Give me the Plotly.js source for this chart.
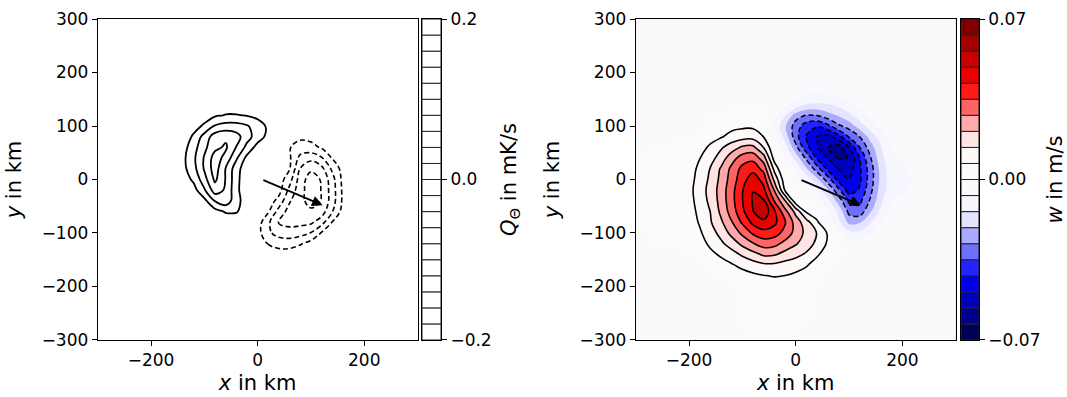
<!DOCTYPE html>
<html>
<head>
<meta charset="utf-8">
<script src="https://cdn.plot.ly/plotly-3.0.1.min.js"></script>
<style>html,body{margin:0;padding:0;background:#fff;}#chart{width:1067px;height:397px;}</style>
</head>
<body>
<div id="chart"></div>
<script>
// ---------- left panel: Q_theta (mK/s) ----------
const qX = [-180,-160,-140,-120,-100,-80,-60,-40,-20,0,20,40,60,80,100,120,140,160,180];
const qY = [-160,-140,-120,-100,-80,-60,-40,-20,0,20,40,60,80,100,120,140];
const qField = [
 [0,0,0,0,0,0,0,0,0,0,0,0,0,0,0,0,0,0,0],
 [0,0,0,0,0,0,0,0,0,0,-0.006,-0.01,-0.01,-0.006,0,0,0,0,0],
 [0,0,0,0,0,0,0,0,0,-0.006,-0.021,-0.028,-0.028,-0.022,-0.012,-0.004,0,0,0],
 [0,0,0,0,0,0,0,0,0,-0.012,-0.036,-0.048,-0.052,-0.048,-0.039,-0.018,-0.004,0,0],
 [0,0,0,0,0,0.002,0.005,0.006,0.002,-0.01,-0.036,-0.062,-0.066,-0.066,-0.064,-0.048,-0.019,-0.006,0],
 [0,0,0,0,0.005,0.012,0.022,0.022,0.008,-0.004,-0.018,-0.048,-0.068,-0.074,-0.076,-0.07,-0.041,-0.012,0],
 [0,0,0.002,0.006,0.014,0.041,0.052,0.028,0.008,-0.002,-0.008,-0.028,-0.058,-0.074,-0.088,-0.079,-0.05,-0.016,0],
 [0,0.002,0.006,0.012,0.037,0.07,0.057,0.026,0.004,0,-0.004,-0.012,-0.046,-0.072,-0.092,-0.079,-0.05,-0.016,0],
 [0,0.003,0.009,0.024,0.052,0.084,0.059,0.027,0.004,0,-0.004,-0.01,-0.032,-0.07,-0.09,-0.078,-0.048,-0.014,0],
 [0,0.005,0.014,0.033,0.062,0.09,0.059,0.029,0.006,0,-0.004,-0.01,-0.019,-0.061,-0.076,-0.066,-0.036,-0.012,0],
 [0,0.005,0.015,0.036,0.062,0.089,0.074,0.043,0.014,0.004,-0.002,-0.008,-0.017,-0.046,-0.054,-0.042,-0.019,-0.008,0],
 [0,0.004,0.012,0.032,0.055,0.075,0.083,0.059,0.034,0.012,0.004,-0.008,-0.019,-0.028,-0.026,-0.018,-0.006,0,0],
 [0,0.002,0.009,0.023,0.048,0.07,0.076,0.068,0.048,0.03,0.014,0,-0.008,-0.016,-0.014,-0.008,-0.002,0,0],
 [0,0,0.005,0.013,0.023,0.042,0.048,0.048,0.042,0.03,0.016,0.004,-0.002,-0.004,-0.004,-0.002,0,0,0],
 [0,0,0.001,0.005,0.011,0.017,0.021,0.021,0.019,0.014,0.008,0.002,0,0,0,0,0,0,0],
 [0,0,0,0.001,0.004,0.008,0.01,0.01,0.008,0.004,0,0,0,0,0,0,0,0,0]
];

// ---------- right panel: w (m/s) ----------
const wX = [-300,-200,-180,-160,-140,-120,-100,-80,-60,-40,-20,0,20,40,60,80,100,120,140,160,180,300];
const wY = [-300,-200,-180,-160,-140,-120,-100,-80,-60,-40,-20,0,20,40,60,80,100,120,140,160,300];
const wField = [
 [-0.0005,-0.0005,-0.0005,-0.0005,-0.0005,-0.0005,-0.0005,-0.0005,-0.0005,-0.0005,-0.0005,-0.0005,-0.0005,-0.0005,-0.0005,-0.0005,-0.0005,-0.0005,-0.0005,-0.0005,-0.0005,-0.0005],
 [-0.0005,-0.0005,-0.0005,-0.0005,-0.0005,-0.0005,0.0014,0.0025,0.0032,0.0035,0.0032,0.0025,0.0014,-0.0005,-0.0005,-0.0005,-0.0005,-0.0005,-0.0005,-0.0005,-0.0005,-0.0005],
 [-0.0005,-0.0005,-0.0005,-0.0005,-0.0005,0.0028,0.0042,0.0056,0.0067,0.0074,0.0069,0.0056,0.0035,0.0014,-0.0005,-0.0005,-0.0005,-0.0005,-0.0005,-0.0005,-0.0005,-0.0005],
 [-0.0005,-0.0005,-0.0005,0.0021,0.0042,0.0063,0.0088,0.0109,0.0126,0.0126,0.0112,0.0098,0.0077,0.0035,0.0011,-0.0005,-0.0005,-0.0005,-0.0005,-0.0005,-0.0005,-0.0005],
 [-0.0005,-0.0005,0.0021,0.0053,0.0081,0.0112,0.0151,0.0186,0.0222,0.0218,0.0186,0.0161,0.013,0.0081,0.0028,0.0007,-0.0005,-0.0005,-0.0005,-0.0005,-0.0005,-0.0005],
 [-0.0005,0.0011,0.0042,0.0084,0.0126,0.0172,0.0228,0.0275,0.0312,0.0302,0.0258,0.0217,0.0175,0.0123,0.006,0.0014,-0.0042,-0.0042,-0.0021,-0.0005,-0.0005,-0.0005],
 [-0.0005,0.0021,0.006,0.0109,0.0163,0.0232,0.0296,0.0362,0.0395,0.0381,0.0326,0.0256,0.0189,0.0137,0.0063,-0.0049,-0.0112,-0.0119,-0.0084,-0.0035,-0.0005,-0.0005],
 [-0.0005,0.0032,0.0077,0.0133,0.0198,0.0275,0.0362,0.0438,0.0472,0.0438,0.0358,0.0249,0.0168,0.0084,-0.0021,-0.0119,-0.0231,-0.0217,-0.0147,-0.0071,-0.0021,-0.0005],
 [-0.0005,0.0039,0.0088,0.0141,0.0226,0.0312,0.0405,0.0488,0.0538,0.0432,0.0305,0.0188,0.006,0.0021,-0.0063,-0.0154,-0.0301,-0.0322,-0.0217,-0.0119,-0.0049,-0.0005],
 [-0.0005,0.0046,0.0098,0.0158,0.0237,0.0326,0.0418,0.0498,0.0496,0.0348,0.0216,0.0028,-0.0007,-0.0049,-0.0119,-0.0238,-0.0364,-0.0368,-0.027,-0.0154,-0.0071,-0.0005],
 [-0.0005,0.0049,0.0105,0.0165,0.024,0.0326,0.0416,0.0488,0.0438,0.0276,0.0063,-0.0004,-0.0042,-0.0098,-0.0203,-0.0329,-0.0455,-0.041,-0.0301,-0.0175,-0.0091,-0.0005],
 [-0.0005,0.0042,0.0098,0.0154,0.023,0.0312,0.0392,0.0462,0.0392,0.0192,0.0028,-0.0035,-0.0091,-0.0193,-0.0315,-0.0441,-0.0487,-0.0434,-0.0315,-0.0189,-0.0098,-0.0005],
 [-0.0005,0.0035,0.0088,0.0144,0.0219,0.0298,0.0372,0.0395,0.0326,0.0119,-0.0014,-0.0081,-0.02,-0.0319,-0.0434,-0.0491,-0.0525,-0.0431,-0.0315,-0.0182,-0.0091,-0.0005],
 [-0.0005,0.0028,0.0068,0.0112,0.0174,0.0252,0.0312,0.0329,0.0242,0.0041,-0.0056,-0.0165,-0.0294,-0.0427,-0.0491,-0.0564,-0.0559,-0.0419,-0.0287,-0.0161,-0.0077,-0.0005],
 [-0.0005,0.0014,0.0042,0.0084,0.013,0.0177,0.0221,0.0228,0.0137,0.0011,-0.0105,-0.0256,-0.0399,-0.048,-0.0559,-0.0595,-0.0487,-0.0349,-0.0245,-0.0144,-0.0063,-0.0005],
 [-0.0005,-0.0005,0.0021,0.0042,0.0063,0.0095,0.0112,0.0112,0.0068,-0.0049,-0.0168,-0.0322,-0.0427,-0.0494,-0.0511,-0.0448,-0.0343,-0.0279,-0.0182,-0.0105,-0.0042,-0.0005],
 [-0.0005,-0.0005,-0.0005,0.0021,0.0035,0.0049,0.0056,0.0056,0.0042,-0.0077,-0.02,-0.0315,-0.0385,-0.0413,-0.0371,-0.0294,-0.0252,-0.0175,-0.0105,-0.0056,-0.0021,-0.0005],
 [-0.0005,-0.0005,-0.0005,-0.0005,-0.0005,0.0014,0.0021,0.0021,0.0014,-0.0049,-0.0133,-0.0245,-0.0284,-0.0277,-0.0238,-0.0203,-0.0154,-0.0105,-0.0063,-0.0028,-0.0007,-0.0005],
 [-0.0005,-0.0005,-0.0005,-0.0005,-0.0005,-0.0005,-0.0005,-0.0005,-0.0005,-0.0005,-0.0056,-0.0091,-0.0144,-0.0151,-0.0144,-0.0119,-0.0091,-0.0056,-0.0028,-0.0014,-0.0005,-0.0005],
 [-0.0005,-0.0005,-0.0005,-0.0005,-0.0005,-0.0005,-0.0005,-0.0005,-0.0005,-0.0005,-0.0014,-0.0035,-0.0063,-0.0069,-0.0063,-0.0049,-0.0035,-0.0021,-0.0005,-0.0005,-0.0005,-0.0005],
 [-0.0005,-0.0005,-0.0005,-0.0005,-0.0005,-0.0005,-0.0005,-0.0005,-0.0005,-0.0005,-0.0005,-0.0005,-0.0005,-0.0005,-0.0005,-0.0005,-0.0005,-0.0005,-0.0005,-0.0005,-0.0005,-0.0005]
];

// colour-bar levels
const qLevels = [-0.2,-0.18,-0.16,-0.14,-0.12,-0.1,-0.08,-0.06,-0.04,-0.02,0,0.02,0.04,0.06,0.08,0.1,0.12,0.14,0.16,0.18,0.2];
const wLevels = [-0.07,-0.063,-0.056,-0.049,-0.042,-0.035,-0.028,-0.021,-0.014,-0.007,0,0.007,0.014,0.021,0.028,0.035,0.042,0.049,0.056,0.063,0.07];
// colour of each w band, from -0.07 (bottom) to 0.07 (top)
const wBinColors = [
 'rgb(0,0,85)','rgb(0,0,140)','rgb(0,0,190)','rgb(0,0,235)','rgb(35,35,255)',
 'rgb(110,110,255)','rgb(170,170,255)','rgb(228,228,255)','rgb(246,246,254)','rgb(250,250,253)',
 'rgb(251,251,253)','rgb(253,249,249)','rgb(255,228,228)','rgb(255,170,170)','rgb(255,100,100)',
 'rgb(255,25,25)','rgb(235,0,0)','rgb(200,0,0)','rgb(165,0,0)','rgb(128,0,0)'
];
// line levels drawn over the fields: [first, last, step]
const qPosLines = [0.02, 0.08, 0.02];
const qNegLines = [-0.08, -0.02, 0.02];
const wPosLines = [0.007, 0.049, 0.007];
const wNegLines = [-0.056, -0.028, 0.007];

const arrowTail = [8, 0];
const arrowTip = [122, -48];
const xTicks = [-200, 0, 200];
const yTicks = [-300, -200, -100, 0, 100, 200, 300];
const qTicks = [-0.2, 0, 0.2];
const qTickText = ['\u22120.2', '0.0', '0.2'];
const wTicks = [-0.07, 0, 0.07];
const wTickText = ['\u22120.07', '0.00', '0.07'];

const nB = wBinColors.length;
const wScale = [[0, wBinColors[0]]];
for (let k = 1; k <= nB; k++) wScale.push([k / (nB + 1), wBinColors[k - 1]]);
wScale.push([1, wBinColors[nB - 1]]);

const FONT = 'DejaVu Sans, Verdana, sans-serif';
const dashPat = '5px,3px';
const YDOM = [0.1436, 0.9521];

function lines(x, y, z, xa, ya, lv, dash, w) {
  return {type: 'contour', x: x, y: y, z: z, xaxis: xa, yaxis: ya, autocontour: false,
    contours: {coloring: 'none', start: lv[0], end: lv[1], size: lv[2]},
    line: {color: 'black', width: w, dash: dash, smoothing: 1.1}, showscale: false, hoverinfo: 'skip'};
}
function bandBar(levels, colors, xa, ya) {
  const base = levels.slice(0, -1);
  return {type: 'bar', x: base.map(() => 0), y: base.map((v, i) => levels[i + 1] - v), base: base,
    width: 1, xaxis: xa, yaxis: ya, marker: {color: colors, line: {color: '#222', width: 1}},
    hoverinfo: 'skip', showlegend: false};
}

const traces = [
  lines(qX, qY, qField, 'x', 'y', qPosLines, 'solid', 1.8),
  lines(qX, qY, qField, 'x', 'y', qNegLines, dashPat, 1.6),
  {type: 'contour', x: wX, y: wY, z: wField, xaxis: 'x2', yaxis: 'y2', autocontour: false,
   contours: {coloring: 'fill', start: wLevels[0], end: wLevels[wLevels.length - 1],
              size: wLevels[1] - wLevels[0], showlines: false},
   colorscale: wScale, line: {width: 0, smoothing: 1.1}, showscale: false, hoverinfo: 'skip'},
  lines(wX, wY, wField, 'x2', 'y2', wPosLines, 'solid', 1.6),
  lines(wX, wY, wField, 'x2', 'y2', wNegLines, dashPat, 1.5),
  bandBar(qLevels, qLevels.slice(0, -1).map(() => '#ffffff'), 'x3', 'y3'),
  bandBar(wLevels, wBinColors, 'x4', 'y4')
];

function xax(domain, anchor) {
  return {domain: domain, anchor: anchor, range: [-300, 300], tickvals: xTicks,
    ticks: 'outside', ticklen: 5, tickwidth: 1, tickcolor: 'black',
    showline: true, mirror: true, linecolor: 'black', linewidth: 1,
    showgrid: false, zeroline: false, fixedrange: true, tickfont: {size: 17},
    title: {text: '<i>x</i> in km', font: {size: 21}, standoff: 5}};
}
function yax(anchor) {
  return {domain: YDOM, anchor: anchor, range: [-300, 300], tickvals: yTicks,
    ticks: 'outside', ticklen: 5, tickwidth: 1, tickcolor: 'black',
    showline: true, mirror: true, linecolor: 'black', linewidth: 1,
    showgrid: false, zeroline: false, fixedrange: true, tickfont: {size: 17},
    title: {text: '<i>y</i> in km', font: {size: 21}, standoff: 14}};
}
function cbx(domain, anchor) {
  return {domain: domain, anchor: anchor, range: [-0.5, 0.5], showline: true, mirror: true,
    linecolor: 'black', linewidth: 1, ticks: '', showticklabels: false,
    showgrid: false, zeroline: false, fixedrange: true};
}
function cby(anchor, rng, tv, tt, title) {
  return {domain: YDOM, anchor: anchor, side: 'right', range: rng, tickvals: tv, ticktext: tt,
    ticks: 'outside', ticklen: 5, tickwidth: 1, tickcolor: 'black',
    showline: true, mirror: true, linecolor: 'black', linewidth: 1,
    showgrid: false, zeroline: false, fixedrange: true, tickfont: {size: 17},
    title: {text: title, font: {size: 21}, standoff: 10}};
}
function arrow(xr, yr) {
  return {xref: xr, yref: yr, axref: xr, ayref: yr, x: arrowTip[0], y: arrowTip[1],
    ax: arrowTail[0], ay: arrowTail[1], text: '', showarrow: true,
    arrowhead: 2, arrowsize: 1.25, arrowwidth: 1.7, arrowcolor: 'black', standoff: 0};
}

const layout = {
  width: 1067, height: 397, margin: {l: 0, r: 0, t: 0, b: 0},
  paper_bgcolor: 'white', plot_bgcolor: 'white', showlegend: false, barmode: 'overlay',
  font: {family: FONT, size: 17, color: 'black'},
  xaxis: xax([0.0916, 0.3913], 'y'), yaxis: yax('x'),
  xaxis2: xax([0.5958, 0.8957], 'y2'), yaxis2: yax('x2'),
  xaxis3: cbx([0.3955, 0.4133], 'y3'),
  yaxis3: cby('x3', [qLevels[0], qLevels[qLevels.length - 1]], qTicks, qTickText, '<i>Q</i><sub>\u0398</sub> in mK/s'),
  xaxis4: cbx([0.9007, 0.9175], 'y4'),
  yaxis4: cby('x4', [wLevels[0], wLevels[wLevels.length - 1]], wTicks, wTickText, '<i>w</i> in m/s'),
  annotations: [arrow('x', 'y'), arrow('x2', 'y2')]
};

Plotly.newPlot('chart', traces, layout, {displayModeBar: false, staticPlot: true});
</script>
</body>
</html>
